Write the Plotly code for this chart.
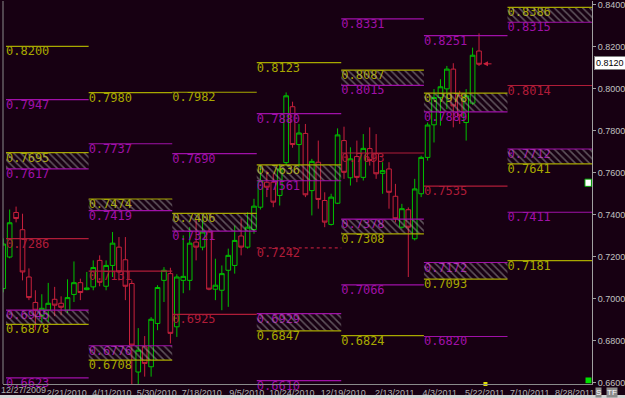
import plotly.graph_objects as go
import pandas as pd

BG = "#170012"
YEL = "#a8a800"
MAG = "#a010a8"
RED = "#b01c38"
GRN = "#00c000"
CRED = "#c8203c"
COL = {"Y": YEL, "M": MAG, "R": RED}

# ---- weekly candles ----
dates = pd.date_range("2009-12-29", periods=75, freq="7D")
opens = [0.7048, 0.7198, 0.7410, 0.7328, 0.7103, 0.6982, 0.6921, 0.6945, 0.6997, 0.6978,
         0.6945, 0.7020, 0.7076, 0.7043, 0.7056, 0.7182, 0.7059, 0.7158, 0.7245, 0.7185,
         0.7072, 0.6651, 0.6771, 0.6676, 0.6882, 0.7087, 0.7119, 0.6866, 0.7087, 0.7087,
         0.7269, 0.7245, 0.7317, 0.7045, 0.7040, 0.7135, 0.7158, 0.7298, 0.7245, 0.7329,
         0.7435, 0.7554, 0.7554, 0.7491, 0.7647, 0.7913, 0.7733, 0.7786, 0.7514, 0.7649,
         0.7467, 0.7353, 0.7454, 0.7752, 0.7575, 0.7676, 0.7577, 0.7714, 0.7690, 0.7596,
         0.7617, 0.7487, 0.7340, 0.7423, 0.7285, 0.7499, 0.7672, 0.7827, 0.7957, 0.7998,
         0.8092, 0.7965, 0.7838, 0.7930, 0.8178]
highs = [0.7287, 0.7424, 0.7438, 0.7404, 0.7144, 0.7040, 0.7021, 0.7075, 0.7056, 0.7011,
         0.7092, 0.7177, 0.7095, 0.7127, 0.7182, 0.7206, 0.7182, 0.7317, 0.7293, 0.7293,
         0.7087, 0.6860, 0.6822, 0.6912, 0.7064, 0.7150, 0.7147, 0.7116, 0.7301, 0.7340,
         0.7380, 0.7396, 0.7333, 0.7190, 0.7158, 0.7238, 0.7348, 0.7380, 0.7411, 0.7475,
         0.7633, 0.7609, 0.7594, 0.7641, 0.7981, 0.7937, 0.7831, 0.7831, 0.7665, 0.7752,
         0.7506, 0.7499, 0.7810, 0.7818, 0.7720, 0.7752, 0.7783, 0.7815, 0.7783, 0.7649,
         0.7649, 0.7546, 0.7451, 0.7434, 0.7570, 0.7680, 0.7838, 0.7997, 0.8044, 0.8107,
         0.8120, 0.7989, 0.7997, 0.8194, 0.8262]
lows = [0.7030, 0.7192, 0.7363, 0.7087, 0.6993, 0.6850, 0.6888, 0.6890, 0.6917, 0.6921,
        0.6932, 0.6984, 0.6993, 0.7040, 0.7040, 0.7059, 0.7040, 0.7103, 0.7087, 0.6993,
        0.6560, 0.6570, 0.6629, 0.6629, 0.6850, 0.6984, 0.6787, 0.6818, 0.7026, 0.7040,
        0.7182, 0.7230, 0.7040, 0.6993, 0.6945, 0.6961, 0.7119, 0.7206, 0.7238, 0.7309,
        0.7424, 0.7483, 0.7435, 0.7443, 0.7633, 0.7718, 0.7625, 0.7483, 0.7396, 0.7428,
        0.7340, 0.7348, 0.7450, 0.7570, 0.7538, 0.7554, 0.7562, 0.7633, 0.7570, 0.7499,
        0.7428, 0.7363, 0.7333, 0.7103, 0.7277, 0.7483, 0.7657, 0.7743, 0.7823, 0.7902,
        0.7815, 0.7831, 0.7752, 0.7922, 0.8107]
closes = [0.7260, 0.7361, 0.7381, 0.7127, 0.7005, 0.6945, 0.6954, 0.6978, 0.6969, 0.6959,
          0.7005, 0.7076, 0.7029, 0.7051, 0.7148, 0.7078, 0.7158, 0.7264, 0.7127, 0.7059,
          0.6779, 0.6755, 0.6692, 0.6902, 0.7053, 0.7135, 0.6835, 0.7103, 0.7106, 0.7264,
          0.7245, 0.7317, 0.7045, 0.7064, 0.7119, 0.7206, 0.7277, 0.7245, 0.7340, 0.7440,
          0.7562, 0.7530, 0.7459, 0.7617, 0.7965, 0.7733, 0.7788, 0.7494, 0.7653, 0.7472,
          0.7364, 0.7483, 0.7779, 0.7601, 0.7665, 0.7577, 0.7715, 0.7657, 0.7594, 0.7609,
          0.7506, 0.7380, 0.7428, 0.7340, 0.7522, 0.7672, 0.7826, 0.7957, 0.8008, 0.8092,
          0.7917, 0.7870, 0.7965, 0.8158, 0.8115]

# x tick labels (as shown on the time axis)
tick_dates = ["2010-02-21", "2010-04-11", "2010-05-30", "2010-07-18", "2010-09-05",
              "2010-10-24", "2010-12-19", "2011-02-13", "2011-04-03", "2011-05-22",
              "2011-07-10", "2011-08-28"]
first_tick_label = "12/27/2009"

# ---- quarterly levels ----
quarter_starts = ["2010-01-01", "2010-04-01", "2010-07-01", "2010-10-01",
                  "2011-01-01", "2011-04-01", "2011-07-01", "2011-10-01"]

line_q = [0, 1, 2, 3, 4, 6,
          0, 0, 1, 2, 3, 3, 4, 4, 5, 5, 6,
          0, 1, 2, 3, 4, 5, 6]
line_val = [0.8200, 0.7980, 0.7982, 0.8123, 0.6824, 0.7181,
            0.7947, 0.6623, 0.7737, 0.7690, 0.7880, 0.6610, 0.8331, 0.7066, 0.8251, 0.6820, 0.7411,
            0.7286, 0.7131, 0.6925, 0.7242, 0.7693, 0.7535, 0.8014]
line_col = ["Y"] * 6 + ["M"] * 11 + ["R"] * 7
line_dash = ["solid"] * 20 + ["dot"] + ["solid"] * 3

zone_q = [0, 0, 1, 1, 2, 3, 3, 4, 4, 5, 5, 6, 6]
zone_top = [0.7695, 0.6945, 0.7474, 0.6776, 0.7406, 0.7636, 0.6929, 0.8087, 0.7378, 0.7978, 0.7172, 0.8386, 0.7712]
zone_bot = [0.7617, 0.6878, 0.7419, 0.6708, 0.7321, 0.7561, 0.6847, 0.8015, 0.7308, 0.7889, 0.7093, 0.8315, 0.7641]
zone_topcol = ["Y", "M", "Y", "M", "Y", "Y", "M", "Y", "M", "Y", "M", "Y", "M"]
zone_botcol = ["M", "Y", "M", "Y", "M", "M", "Y", "M", "Y", "M", "Y", "M", "Y"]

fig = go.Figure()

# level labels (text traces so the hatch can overlay them)
lab_x, lab_y, lab_t, lab_c = [], [], [], []
for q, v, c in zip(line_q, line_val, line_col):
    lab_x.append(quarter_starts[q]); lab_y.append(v); lab_t.append(f"{v:.4f}"); lab_c.append(COL[c])
for q, t, b, tc, bc in zip(zone_q, zone_top, zone_bot, zone_topcol, zone_botcol):
    lab_x += [quarter_starts[q], quarter_starts[q]]
    lab_y += [t, b]
    lab_t += [f"{t:.4f}", f"{b:.4f}"]
    lab_c += [COL[tc], COL[bc]]
fig.add_trace(go.Scatter(x=lab_x, y=lab_y, text=lab_t, mode="text",
                         textposition="bottom right", cliponaxis=False,
                         textfont=dict(family="DejaVu Sans Mono", size=12, color=lab_c),
                         hoverinfo="skip"))

# hatched zones
for q, t, b in zip(zone_q, zone_top, zone_bot):
    x0, x1 = quarter_starts[q], quarter_starts[q + 1]
    fig.add_trace(go.Scatter(x=[x0, x1, x1, x0, x0], y=[t, t, b, b, t], mode="lines",
                             fill="toself", line=dict(width=0), fillcolor="rgba(0,0,0,0)",
                             fillpattern=dict(shape="\\", fgcolor="#a8a8a8", bgcolor="rgba(0,0,0,0)",
                                              size=5, solidity=0.3),
                             hoverinfo="skip"))


def seg(q, v, color, dash="solid"):
    fig.add_trace(go.Scatter(x=[quarter_starts[q], quarter_starts[q + 1]], y=[v, v], mode="lines",
                             line=dict(color=color, width=1.2, dash=dash), hoverinfo="skip"))


for q, t, b, tc, bc in zip(zone_q, zone_top, zone_bot, zone_topcol, zone_botcol):
    seg(q, t, COL[tc]); seg(q, b, COL[bc])
for q, v, c, d in zip(line_q, line_val, line_col, line_dash):
    seg(q, v, COL[c], d)

# candles
fig.add_trace(go.Candlestick(x=dates, open=opens, high=highs, low=lows, close=closes,
                             increasing=dict(line=dict(color=GRN, width=1), fillcolor=BG),
                             decreasing=dict(line=dict(color=CRED, width=1), fillcolor=BG),
                             whiskerwidth=0, hoverinfo="skip"))

# current bar marker on time axis
fig.add_trace(go.Scatter(x=["2011-06-07"], y=[0.6594], mode="markers", cliponaxis=False,
                         marker=dict(symbol="square", size=4, color="#e0e000"), hoverinfo="skip"))

fig.add_annotation(x=dates[-1], y=0.8117, ax=14, ay=0, text="", showarrow=True,
                   arrowhead=2, arrowsize=1, arrowwidth=1, arrowcolor=CRED, standoff=4)

# current price box
fig.add_annotation(xref="paper", x=1, xanchor="left", xshift=2, y=0.8120, yref="y",
                   text="0.8120", showarrow=False, bgcolor="#ffffff", bordercolor="#808080",
                   borderwidth=1, borderpad=1, font=dict(family="Arial", size=9, color="#000000"))
# first x label (tick just left of the visible range)
fig.add_annotation(xref="paper", x=0, xanchor="left", xshift=-4, yref="paper", y=-0.0155,
                   yanchor="middle", text=first_tick_label, showarrow=False,
                   font=dict(family="Arial", size=9, color="#b0b0b0"))
# S / TF buttons
for txt, xs in (("S", 3), ("TF", 14)):
    fig.add_annotation(xref="paper", x=1, xanchor="left", xshift=xs, yref="paper", y=-0.021,
                       yanchor="middle", text=txt, showarrow=False, bgcolor="#8c8c8c",
                       borderpad=0, font=dict(family="Arial", size=8, color="#ffffff"))

shapes = [
    dict(type="line", xref="paper", yref="paper", x0=0, x1=0, y0=0, y1=1,
         line=dict(color="#8a8a8a", width=1)),
    dict(type="rect", xref="paper", yref="paper", x0=0.989, x1=0.999, y0=0.002, y1=0.017,
         fillcolor="#00e000", line=dict(width=0)),
    dict(type="rect", xref="paper", yref="paper", x0=0.988, x1=0.999, y0=0.516, y1=0.535,
         fillcolor="#ffffff", line=dict(color="#00a000", width=1)),
    dict(type="rect", xref="paper", yref="paper", x0=-0.01, x1=1.06, y0=-0.037, y1=-0.029,
         fillcolor="#d4d4d4", line=dict(width=0)),
]

fig.update_layout(
    width=625, height=398, margin=dict(l=3, r=30, t=0, b=14),
    paper_bgcolor=BG, plot_bgcolor=BG, showlegend=False, shapes=shapes,
    boxgap=0.2, boxgroupgap=0.1,
    xaxis=dict(type="date", range=["2009-12-28 18:00", "2011-10-01"], showgrid=False,
               zeroline=False, rangeslider=dict(visible=False),
               tickmode="array", tickvals=tick_dates, tickformat="%-m/%-d/%Y",
               tickfont=dict(family="Arial", size=9, color="#b0b0b0"), ticklabelshift=14,
               ticks="", showline=True, linecolor="#8a8a8a", linewidth=1),
    yaxis=dict(side="right", range=[0.6594, 0.8416], tick0=0.66, dtick=0.02, tickformat=".4f",
               showgrid=False, zeroline=False, ticks="outside", ticklen=3, tickcolor="#a0a0a0",
               tickfont=dict(family="Arial", size=9, color="#c0c0c0"), ticklabeloverflow="allow",
               showline=True, linecolor="#a0a0a0", linewidth=1),
)

fig.write_html("out.html")
